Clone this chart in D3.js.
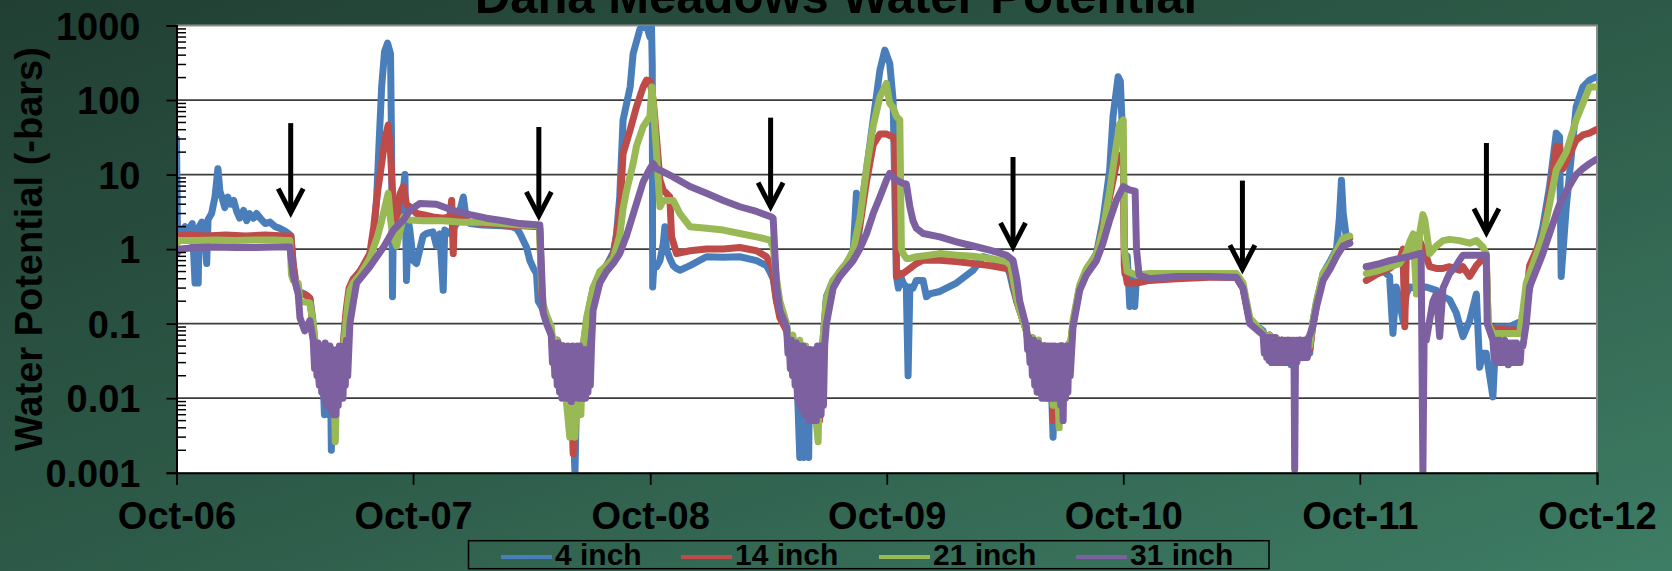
<!DOCTYPE html>
<html>
<head>
<meta charset="utf-8">
<script src="https://cdn.jsdelivr.net/npm/d3@7"></script>
<style>
  html, body { margin: 0; padding: 0; overflow: hidden; }
  body { width: 1672px; height: 571px; }
  svg { display: block; }
  text { font-family: "Liberation Sans", Arial, sans-serif; fill: #000; }
</style>
</head>
<body>
<svg id="chart" width="1672" height="571"></svg>
<script>
// ---------- DATA (time = months since Oct 1 2006, value = water potential in -bars) ----------
const chartTitle = "Dana Meadows Water Potential";
const yAxisTitle = "Water Potential (-bars)";
const yTickValues = [0.001, 0.01, 0.1, 1, 10, 100, 1000];
const xTickLabels = ["Oct-06", "Oct-07", "Oct-08", "Oct-09", "Oct-10", "Oct-11", "Oct-12"];
const seriesNames = ["4 inch", "14 inch", "21 inch", "31 inch"];

const inch4 = [
 [0,30],[0.05,1.6],[0.2,1.7],[0.43,2.0],[0.6,1.8],[0.8,2.2],[0.94,0.35],[1.0,1.8],[1.1,0.35],[1.15,2.0],[1.28,2.3],[1.4,1.8],[1.53,0.64],[1.6,2.5],[1.78,3.0],[1.95,5.0],[2.1,12],[2.2,6.0],[2.3,5.0],[2.45,3.6],[2.6,5.0],[2.75,4.0],[2.9,4.5],[3.05,3.2],[3.2,2.6],[3.4,3.3],[3.56,2.4],[3.7,3.0],[3.9,2.6],[4.06,3.0],[4.3,2.5],[4.5,2.2],[4.74,2.3],[5.0,2.0],[5.24,1.9],[5.5,1.75],[5.7,1.6],[5.8,1.5],
 [5.9,0.7],[6.0,0.4],[6.2,0.27],[6.5,0.25],[6.76,0.22],[6.9,0.12],[7.0,0.06],[7.1,0.04],[7.25,0.015],[7.4,0.03],[7.5,0.006],[7.6,0.012],[7.7,0.006],[7.8,0.03],[7.85,0.002],[7.9,0.02],[8.0,0.04],[8.1,0.015],[8.2,0.035],[8.3,0.02],[8.45,0.05],[8.55,0.1],[8.7,0.2],[8.8,0.3],[9.0,0.4],[9.4,0.55],[9.8,0.75],[10.0,1.5],[10.15,5],[10.25,20],[10.4,150],[10.55,450],[10.7,580],[10.85,420],[10.9,30],[10.95,0.23],[11.0,3],[11.16,1.5],[11.4,3.5],[11.58,10],[11.66,0.38],[11.75,2.4],[11.83,1.8],[12.0,0.7],[12.17,0.64],[12.34,1.0],[12.5,1.5],[12.68,1.62],[13.0,1.7],[13.18,1.1],[13.35,1.6],[13.52,0.28],[13.6,1.8],[13.86,1.62],[14.2,2.2],[14.54,5.0],[14.7,2.4],[14.88,2.2],[15.5,2.1],[16.5,2.05],[17.0,2.0],[17.24,1.9],[17.41,1.62],[17.74,1.07],[17.91,0.71],[18.1,0.55],[18.25,0.47],[18.34,0.2],[18.5,0.17],[18.76,0.12],[19.0,0.07],
 [19.15,0.04],[19.3,0.06],[19.45,0.025],[19.6,0.05],[19.75,0.02],[19.9,0.045],[20.05,0.012],[20.2,0.001],[20.3,0.015],[20.45,0.04],[20.6,0.02],[20.75,0.05],[20.9,0.1],[21.12,0.25],[21.46,0.4],[21.8,0.6],[22.14,0.9],[22.3,1.5],[22.47,5],[22.64,54],[23.0,150],[23.15,420],[23.5,900],[23.66,950],[23.83,1000],[24.0,700],[24.08,1000],[24.12,300],[24.14,0.31],[24.2,0.6],[24.34,0.58],[24.51,0.7],[24.68,1.2],[24.76,2.0],[24.84,1.0],[25.01,0.75],[25.18,0.6],[25.35,0.55],[25.52,0.52],[26.03,0.6],[26.87,0.79],[27.72,0.78],[28.56,0.79],[29.41,0.7],[29.91,0.6],[30.08,0.5],[30.25,0.4],
 [30.42,0.2],[30.59,0.15],[30.93,0.09],[31.09,0.05],[31.25,0.02],[31.4,0.05],[31.6,0.0016],[31.7,0.03],[31.8,0.0016],[31.94,0.02],[32.05,0.0016],[32.11,0.04],[32.3,0.01],[32.45,0.04],[32.6,0.015],[32.75,0.05],[32.95,0.23],[33.29,0.38],[33.63,0.45],[33.97,0.58],[34.3,0.87],[34.47,5.6],[34.55,1.0],[34.64,2.45],[34.98,11.5],[35.32,54],[35.66,250],[35.91,468],[36.16,310],[36.33,100],[36.5,0.43],[36.6,0.3],[36.67,0.47],[36.84,0.35],[37.0,0.31],[37.09,0.02],[37.18,0.31],[37.34,0.3],[37.51,0.38],[37.85,0.38],[38.02,0.23],[38.19,0.25],[38.7,0.27],[39.54,0.35],[40.39,0.52],[40.89,0.79],[41.23,0.75],[42.07,0.64],[42.24,0.47],[42.41,0.3],
 [42.6,0.2],[42.75,0.15],[43.09,0.08],[43.25,0.04],[43.4,0.06],[43.55,0.02],[43.7,0.05],[43.85,0.015],[44.0,0.05],[44.15,0.01],[44.3,0.04],[44.44,0.003],[44.55,0.03],[44.7,0.012],[44.85,0.05],[45.0,0.02],[45.15,0.05],[45.28,0.03],[45.45,0.1],[45.79,0.31],[46.13,0.52],[46.64,0.87],[46.97,2.45],[47.31,11.5],[47.48,60],[47.74,205],[47.85,180],[48.0,20],[48.08,0.47],[48.2,0.8],[48.33,0.17],[48.45,0.45],[48.58,0.17],[48.67,0.43],[49.34,0.43],[50.69,0.43],[52.38,0.43],[53.73,0.42],[54.07,0.3],[54.41,0.11],[55.09,0.08],
 [55.25,0.05],[55.42,0.07],[55.6,0.04],[55.75,0.06],[55.9,0.035],[56.05,0.06],[56.2,0.03],[56.35,0.055],[56.5,0.028],[56.65,0.05],[56.8,0.03],[56.95,0.06],[57.1,0.035],[57.25,0.06],[57.45,0.04],[57.6,0.1],[57.8,0.2],[57.96,0.3],[58.13,0.47],[58.5,0.7],[58.81,1.0],[58.95,2.5],[59.06,8.4],[59.15,3],[59.3,1.5],[59.48,1.2],[59.9,null],
 [60.32,0.58],[60.8,0.55],[61.2,0.5],[61.5,0.43],[61.67,0.074],[61.84,0.31],[62.01,0.2],[62.18,0.11],[62.35,0.25],[62.52,0.31],[63.0,0.3],[63.36,0.31],[63.87,0.28],[64.21,0.23],[64.54,0.21],[64.88,0.14],[65.22,0.067],[65.56,0.11],[65.9,0.25],[66.07,0.026],[66.23,0.04],[66.4,0.04],[66.74,0.0104],[66.91,0.091],[67.58,0.091],[68.26,0.11],[68.6,0.3],[68.94,0.87],[69.27,2],[69.61,6.9],[69.95,36],[70.12,32],[70.2,0.43],[70.46,3.7],[70.96,81],[71.3,150],[71.64,185],[71.98,205]
];

const inch14 = [
 [0,1.3],[0.1,1.5],[0.5,1.55],[1.5,1.5],[2.5,1.55],[3.5,1.5],[4.5,1.55],[5.5,1.5],[5.8,1.5],[5.92,0.6],[6.1,0.3],[6.3,0.25],[6.6,0.24],[6.76,0.22],[6.9,0.1],[7.0,0.05],[7.15,0.03],[7.3,0.045],[7.45,0.02],[7.6,0.04],[7.75,0.012],[7.9,0.035],[8.05,0.015],[8.2,0.04],[8.35,0.02],[8.45,0.05],[8.6,0.15],[8.75,0.3],[8.96,0.4],[9.3,0.5],[9.8,0.87],[10.0,2.0],[10.2,6],[10.4,14],[10.57,30],[10.73,46],[10.85,20],[10.99,3.7],[11.16,2.45],[11.33,5.5],[11.5,6.9],[11.66,4.0],[11.83,3.7],[12.17,3.0],[12.5,2.9],[13.0,2.7],[13.52,2.6],[13.86,2.7],[13.95,4.5],[14.03,0.87],[14.1,3.0],[14.2,2.6],[14.88,2.3],[15.72,2.2],[16.56,2.1],[17.5,2.05],[18.34,2.0],[18.42,1.9],[18.5,0.3],[18.59,0.15],[18.76,0.12],[19.0,0.08],
 [19.15,0.03],[19.3,0.06],[19.45,0.02],[19.6,0.05],[19.75,0.015],[19.94,0.04],[20.11,0.0018],[20.2,0.012],[20.35,0.04],[20.5,0.02],[20.62,0.05],[20.79,0.11],[21.12,0.3],[21.46,0.45],[21.8,0.6],[22.14,0.8],[22.47,3],[22.64,19],[23.0,40],[23.32,81],[23.66,150],[23.83,185],[24.0,180],[24.17,100],[24.34,30],[24.51,8.4],[24.68,6.2],[25.01,5.0],[25.1,1.46],[25.35,0.87],[26.03,0.95],[26.87,1.0],[27.72,1.0],[28.56,1.05],[29.41,0.95],[29.91,0.79],[30.17,0.6],[30.25,0.45],[30.42,0.2],[30.59,0.12],[30.93,0.08],
 [31.09,0.04],[31.25,0.06],[31.4,0.025],[31.6,0.05],[31.75,0.015],[31.9,0.04],[32.05,0.007],[32.2,0.03],[32.35,0.005],[32.45,0.03],[32.6,0.005],[32.75,0.04],[32.95,0.2],[33.29,0.35],[33.63,0.5],[33.97,0.65],[34.3,0.9],[34.64,2.0],[34.98,8],[35.32,25],[35.66,35],[35.99,35],[36.33,32],[36.45,25],[36.5,0.43],[36.67,0.47],[36.84,0.47],[37.18,0.55],[37.51,0.64],[37.85,0.71],[38.7,0.71],[39.54,0.68],[40.39,0.64],[41.23,0.6],[42.07,0.55],[42.3,0.5],[42.41,0.35],[42.6,0.2],[42.75,0.15],[43.09,0.08],
 [43.25,0.045],[43.4,0.065],[43.55,0.03],[43.7,0.06],[43.85,0.02],[44.0,0.05],[44.15,0.012],[44.3,0.045],[44.44,0.005],[44.6,0.04],[44.75,0.015],[44.9,0.05],[45.05,0.02],[45.2,0.05],[45.35,0.06],[45.45,0.1],[45.79,0.31],[46.13,0.5],[46.64,0.8],[46.97,2.0],[47.31,5],[47.65,14],[47.85,18],[48.0,19],[48.05,0.6],[48.2,0.35],[48.67,0.35],[49.34,0.38],[50.69,0.4],[52.38,0.42],[53.73,0.42],[54.07,0.3],[54.41,0.11],[55.09,0.075],
 [55.25,0.05],[55.42,0.07],[55.6,0.045],[55.75,0.065],[55.9,0.04],[56.05,0.06],[56.2,0.035],[56.35,0.06],[56.5,0.035],[56.65,0.055],[56.8,0.035],[56.95,0.06],[57.1,0.04],[57.25,0.06],[57.45,0.045],[57.6,0.09],[57.8,0.18],[57.96,0.28],[58.13,0.43],[58.5,0.6],[58.81,0.9],[59.14,1.3],[59.48,1.4],[59.9,null],
 [60.32,0.38],[60.8,0.45],[61.5,0.55],[62.01,0.7],[62.18,1.0],[62.27,0.091],[62.35,0.9],[62.6,1.1],[62.86,1.1],[63.02,1.3],[63.36,0.8],[63.53,0.58],[63.87,0.55],[64.21,0.55],[64.54,0.58],[65.05,0.52],[65.22,0.58],[65.56,0.43],[65.9,0.6],[66.23,0.75],[66.4,0.75],[66.5,0.1],[66.74,0.085],[67.58,0.082],[68.26,0.082],[68.6,0.6],[69.27,1.5],[69.61,5],[69.95,24],[70.12,24],[70.29,12],[70.96,29],[71.3,34],[71.64,36],[71.98,40]
];

const inch21 = [
 [0,1.15],[0.1,1.3],[1,1.3],[2,1.32],[3,1.3],[4,1.32],[5,1.32],[5.58,1.3],[5.75,1.3],[5.83,0.45],[5.92,0.38],[6.17,0.35],[6.26,0.2],[6.76,0.19],[6.93,0.1],[7.05,0.05],[7.2,0.035],[7.35,0.05],[7.5,0.025],[7.65,0.045],[7.8,0.015],[7.95,0.04],[8.05,0.0026],[8.15,0.03],[8.3,0.015],[8.45,0.045],[8.55,0.08],[8.7,0.2],[8.79,0.28],[8.96,0.35],[9.3,0.45],[9.8,0.75],[10.2,1.5],[10.4,2.4],[10.57,3.7],[10.73,5.6],[10.85,2.5],[10.99,1.46],[11.16,1.1],[11.5,2.7],[11.83,2.45],[12.5,2.4],[13.5,2.4],[14.5,2.3],[15.5,2.3],[16.5,2.2],[17.5,2.1],[18.3,2.05],[18.4,2.0],[18.5,0.35],[18.59,0.18],[18.76,0.13],[19.0,0.09],
 [19.15,0.04],[19.3,0.06],[19.45,0.02],[19.6,0.05],[19.75,0.01],[19.94,0.003],[20.05,0.03],[20.2,0.003],[20.35,0.04],[20.5,0.006],[20.62,0.05],[20.79,0.12],[21.12,0.3],[21.46,0.5],[21.8,0.6],[22.14,0.75],[22.47,1.5],[22.64,3.5],[22.81,6.0],[23.15,14],[23.32,24],[23.66,44],[24.0,60],[24.1,150],[24.17,90],[24.34,19],[24.51,3.7],[24.68,4.5],[25.18,4.5],[25.52,3.0],[26.03,2.0],[26.87,1.9],[27.72,1.8],[28.56,1.62],[29.41,1.46],[30.08,1.32],[30.25,1.07],[30.42,0.4],[30.59,0.2],[30.93,0.1],
 [31.09,0.045],[31.25,0.07],[31.4,0.03],[31.6,0.06],[31.75,0.02],[31.9,0.05],[32.05,0.01],[32.2,0.04],[32.35,0.008],[32.53,0.0026],[32.6,0.03],[32.75,0.05],[32.95,0.22],[33.29,0.38],[33.63,0.5],[33.97,0.65],[34.3,0.95],[34.64,2.5],[34.98,12],[35.32,45],[35.66,110],[35.99,167],[36.16,90],[36.33,80],[36.5,60],[36.67,54],[36.75,1.0],[36.84,0.87],[37.0,0.75],[37.18,0.75],[37.51,0.79],[37.85,0.81],[38.7,0.87],[39.54,0.83],[40.39,0.8],[41.23,0.75],[42.07,0.68],[42.3,0.6],[42.41,0.4],[42.6,0.22],[42.75,0.15],[43.09,0.08],
 [43.25,0.045],[43.4,0.065],[43.55,0.03],[43.7,0.06],[43.85,0.02],[44.0,0.05],[44.15,0.01],[44.3,0.045],[44.44,0.008],[44.6,0.04],[44.75,0.004],[44.9,0.05],[45.05,0.02],[45.2,0.05],[45.35,0.06],[45.45,0.11],[45.79,0.33],[46.13,0.55],[46.64,0.85],[46.97,1.8],[47.31,6],[47.65,25],[47.82,48],[48.0,54],[48.05,1.0],[48.2,0.5],[48.67,0.45],[49.34,0.47],[50.69,0.47],[52.38,0.47],[53.73,0.47],[54.07,0.35],[54.41,0.12],[55.09,0.075],
 [55.25,0.05],[55.42,0.07],[55.6,0.045],[55.75,0.065],[55.9,0.04],[56.05,0.06],[56.2,0.032],[56.35,0.06],[56.5,0.03],[56.65,0.055],[56.8,0.035],[56.95,0.06],[57.1,0.04],[57.25,0.06],[57.45,0.05],[57.6,0.1],[57.8,0.2],[57.96,0.3],[58.13,0.47],[58.5,0.65],[58.81,0.95],[59.14,1.4],[59.48,1.5],[59.9,null],
 [60.32,0.47],[61.0,0.52],[61.5,0.58],[62.01,0.64],[62.35,0.9],[62.52,1.25],[62.7,1.6],[62.86,0.25],[63.02,1.6],[63.19,2.9],[63.28,2.5],[63.53,0.87],[63.87,1.1],[64.21,1.3],[64.54,1.35],[65.05,1.3],[65.56,1.2],[65.9,1.3],[66.23,1.07],[66.4,0.87],[66.5,0.1],[66.74,0.074],[67.58,0.074],[68.09,0.074],[68.26,0.15],[68.43,0.35],[68.6,0.47],[69.27,1.46],[69.61,4],[69.95,11.5],[70.46,20],[70.96,54],[71.3,90],[71.64,150],[71.98,150]
];

const inch31 = [
 [0,0.87],[0.2,1.0],[1,1.05],[2,1.07],[3,1.05],[4,1.05],[5,1.07],[5.75,1.07],[5.83,0.7],[5.92,0.45],[6.17,0.25],[6.26,0.12],[6.5,0.08],[6.76,0.11],
 [6.93,0.06],[7.0,0.025],[7.06,0.05],[7.12,0.02],[7.18,0.055],[7.24,0.015],[7.3,0.05],[7.36,0.012],[7.42,0.05],[7.48,0.01],[7.54,0.055],[7.6,0.008],[7.66,0.045],[7.72,0.01],[7.78,0.05],[7.84,0.007],[7.9,0.045],[7.96,0.006],[8.02,0.04],[8.08,0.006],[8.14,0.045],[8.2,0.008],[8.26,0.05],[8.32,0.01],[8.38,0.045],[8.44,0.01],[8.5,0.05],[8.56,0.015],[8.62,0.06],[8.68,0.02],[8.79,0.1],
 [8.96,0.19],[9.13,0.35],[9.8,0.58],[10.5,1.07],[11.0,1.8],[11.5,2.45],[11.83,3.3],[12.34,4.1],[13.18,4.0],[14.03,3.3],[14.88,2.9],[15.72,2.6],[16.56,2.4],[17.41,2.2],[18.42,2.1],[18.5,0.6],[18.59,0.14],[18.76,0.1],
 [19.0,0.07],[19.06,0.03],[19.12,0.055],[19.18,0.02],[19.24,0.05],[19.3,0.015],[19.36,0.055],[19.42,0.012],[19.48,0.05],[19.54,0.01],[19.6,0.05],[19.66,0.012],[19.72,0.045],[19.78,0.01],[19.84,0.05],[19.9,0.01],[19.96,0.045],[20.02,0.009],[20.08,0.05],[20.14,0.01],[20.2,0.045],[20.26,0.012],[20.32,0.05],[20.38,0.01],[20.44,0.05],[20.5,0.01],[20.56,0.045],[20.62,0.01],[20.68,0.045],[20.74,0.01],[20.8,0.04],[20.86,0.012],[20.92,0.045],[20.98,0.015],[21.04,0.05],[21.12,0.15],
 [21.46,0.35],[21.8,0.5],[22.14,0.64],[22.47,0.87],[22.81,1.5],[23.32,4.1],[23.66,8],[24.0,12],[24.17,14],[24.34,12],[24.51,11.5],[25.18,9.3],[26.03,6.9],[26.87,5.6],[27.72,4.5],[28.56,3.7],[29.41,3.2],[30.17,2.7],[30.25,2.6],[30.42,0.31],[30.59,0.15],
 [30.93,0.09],[31.0,0.04],[31.06,0.06],[31.12,0.025],[31.18,0.06],[31.24,0.02],[31.3,0.055],[31.36,0.015],[31.42,0.055],[31.48,0.01],[31.54,0.05],[31.6,0.008],[31.66,0.05],[31.72,0.007],[31.78,0.05],[31.84,0.006],[31.9,0.045],[31.96,0.006],[32.02,0.045],[32.08,0.005],[32.14,0.045],[32.2,0.005],[32.26,0.04],[32.32,0.005],[32.38,0.045],[32.44,0.005],[32.5,0.05],[32.56,0.006],[32.62,0.05],[32.68,0.006],[32.74,0.05],[32.8,0.008],[32.86,0.05],[32.95,0.1],
 [33.29,0.3],[33.63,0.43],[33.97,0.55],[34.3,0.7],[34.64,1.0],[34.98,1.6],[35.32,3.0],[35.66,5.0],[35.99,8.4],[36.16,10.4],[36.33,9.3],[36.5,8.4],[36.84,7.6],[37.0,7.5],[37.18,3.7],[37.34,2.4],[37.51,1.9],[37.85,1.62],[38.7,1.46],[39.54,1.25],[40.39,1.1],[41.23,0.97],[42.07,0.83],[42.41,0.71],[42.6,0.4],[42.75,0.2],
 [43.09,0.09],[43.15,0.045],[43.21,0.065],[43.27,0.03],[43.33,0.06],[43.39,0.02],[43.45,0.06],[43.51,0.015],[43.57,0.055],[43.63,0.012],[43.69,0.055],[43.75,0.012],[43.81,0.05],[43.87,0.01],[43.93,0.05],[43.99,0.01],[44.05,0.05],[44.11,0.01],[44.17,0.05],[44.23,0.01],[44.29,0.05],[44.35,0.01],[44.41,0.05],[44.47,0.01],[44.53,0.05],[44.59,0.01],[44.65,0.045],[44.71,0.01],[44.77,0.05],[44.83,0.008],[44.89,0.05],[44.95,0.005],[45.01,0.045],[45.07,0.01],[45.13,0.05],[45.19,0.012],[45.25,0.05],[45.31,0.02],[45.45,0.09],
 [45.79,0.28],[46.13,0.45],[46.64,0.7],[46.97,1.2],[47.31,2.45],[47.65,4.5],[48.0,6.9],[48.33,6.2],[48.6,6.0],[48.67,1.0],[48.8,0.45],[49.34,0.4],[50.69,0.43],[52.38,0.43],[53.73,0.42],[54.07,0.3],[54.41,0.1],
 [55.09,0.07],[55.15,0.04],[55.21,0.065],[55.27,0.035],[55.33,0.065],[55.39,0.032],[55.45,0.065],[55.51,0.03],[55.57,0.065],[55.63,0.03],[55.69,0.065],[55.75,0.03],[55.81,0.06],[55.87,0.03],[55.93,0.06],[55.99,0.03],[56.05,0.06],[56.11,0.03],[56.17,0.06],[56.23,0.03],[56.29,0.06],[56.35,0.03],[56.41,0.06],[56.47,0.03],[56.53,0.06],[56.59,0.035],[56.65,0.06],[56.69,0.0011],[56.73,0.035],[56.79,0.06],[56.85,0.035],[56.91,0.06],[56.97,0.035],[57.03,0.06],[57.09,0.035],[57.15,0.06],[57.21,0.035],[57.27,0.06],[57.33,0.035],[57.39,0.065],[57.45,0.07],
 [57.6,0.09],[57.8,0.17],[57.96,0.25],[58.13,0.38],[58.5,0.55],[58.81,0.8],[59.14,1.1],[59.48,1.2],[59.9,null],
 [60.32,0.58],[61.0,0.64],[61.5,0.7],[62.01,0.75],[62.52,0.8],[63.02,0.87],[63.1,0.87],[63.19,0.001],[63.25,0.06],[63.36,0.06],[63.53,0.11],[63.7,0.2],[63.87,0.25],[64.04,0.067],[64.21,0.3],[64.54,0.47],[64.88,0.6],[65.05,0.71],[65.22,0.83],[65.5,0.83],[66.0,0.83],[66.4,0.83],[66.45,0.1],
 [66.74,0.06],[66.8,0.035],[66.86,0.06],[66.92,0.03],[66.98,0.06],[67.04,0.03],[67.1,0.06],[67.16,0.03],[67.22,0.055],[67.28,0.03],[67.34,0.06],[67.4,0.03],[67.46,0.055],[67.52,0.028],[67.58,0.055],[67.64,0.03],[67.7,0.055],[67.76,0.03],[67.82,0.055],[67.88,0.03],[67.94,0.055],[68.0,0.03],[68.06,0.05],[68.12,0.03],[68.18,0.05],[68.26,0.05],
 [68.43,0.1],[68.6,0.31],[69.27,0.87],[69.95,3.0],[70.12,4.0],[70.46,6.0],[70.96,10],[71.3,12],[71.64,14],[71.98,16]
];

// arrows: month position, tip value, tail value
const arrowMonths = [5.79, 18.37, 30.12, 42.41, 54.04, 66.41];
const arrowTipValues = [3.08, 2.79, 3.71, 1.07, 0.54, 1.66];
const arrowTailValues = [49, 43.5, 58, 17.2, 8.3, 26.5];

// ---------- LAYOUT / STYLE ----------
const W = 1672, H = 571;
const plot = { left: 176.5, right: 1597, top: 25.5, bottom: 472.7 };
const colors = ["#4a7ebb", "#be4b48", "#98b954", "#7d60a0"];
const FONT = '"Liberation Sans", Arial, sans-serif';

const svg = d3.select("#chart");
const defs = svg.append("defs");
const grad = defs.append("linearGradient").attr("id", "bg")
  .attr("x1", "0%").attr("y1", "0%").attr("x2", "100%").attr("y2", "100%");
grad.append("stop").attr("offset", "0%").attr("stop-color", "#213f33");
grad.append("stop").attr("offset", "50%").attr("stop-color", "#2d5a48");
grad.append("stop").attr("offset", "100%").attr("stop-color", "#3e7d65");
svg.append("rect").attr("width", W).attr("height", H).attr("fill", "url(#bg)");

defs.append("clipPath").attr("id", "clip").append("rect")
  .attr("x", plot.left).attr("y", plot.top)
  .attr("width", plot.right - plot.left).attr("height", plot.bottom - plot.top);

// scales
const t0 = Date.UTC(2006, 9, 1);
const monthToDate = m => new Date(t0 + m * 30.4375 * 864e5);
const x = d3.scaleUtc()
  .domain([new Date(Date.UTC(2006, 9, 1)), new Date(Date.UTC(2012, 9, 1))])
  .range([plot.left, plot.right]);
const y = d3.scaleLog().domain([0.001, 1000]).range([plot.bottom, plot.top]);

// plot background
svg.append("rect").attr("x", plot.left).attr("y", plot.top)
  .attr("width", plot.right - plot.left).attr("height", plot.bottom - plot.top)
  .attr("fill", "#ffffff");

// gridlines
svg.append("g").selectAll("line").data(yTickValues.filter(v => v > 0.001 && v < 1000)).join("line")
  .attr("x1", plot.left).attr("x2", plot.right)
  .attr("y1", d => y(d)).attr("y2", d => y(d))
  .attr("stroke", "#3c3c3c").attr("stroke-width", 1.8);

// plot border (top/right grey)
svg.append("path")
  .attr("d", `M${plot.left},${plot.top}H${plot.right}V${plot.bottom}`)
  .attr("fill", "none").attr("stroke", "#8c8c8c").attr("stroke-width", 2);

// series lines
const line = d3.line()
  .defined(d => d[1] != null)
  .x(d => x(monthToDate(d[0])))
  .y(d => y(d[1]));
const allSeries = [inch4, inch14, inch21, inch31];
const gLines = svg.append("g").attr("clip-path", "url(#clip)");
allSeries.forEach((s, i) => {
  gLines.append("path").datum(s)
    .attr("d", line)
    .attr("fill", "none")
    .attr("stroke", colors[i])
    .attr("stroke-width", 7)
    .attr("stroke-linejoin", "round")
    .attr("stroke-linecap", "round");
});

// y axis: major ticks outward, minor ticks inward
const yAxis = d3.axisLeft(y).tickValues(yTickValues).tickSize(10).tickPadding(26)
  .tickFormat(d3.format("~g"));
const gy = svg.append("g").attr("transform", `translate(${plot.left},0)`).call(yAxis);
gy.select(".domain").attr("stroke", "#000").attr("stroke-width", 2);
gy.selectAll(".tick line").attr("stroke", "#000").attr("stroke-width", 1.8);
gy.selectAll(".tick text")
  .style("font-family", FONT).style("font-size", "38px").style("font-weight", "bold")
  .attr("fill", "#000").attr("dy", "0.36em");
const minorVals = [];
for (let e = -3; e < 3; e++) for (let k = 2; k <= 9; k++) minorVals.push(k * Math.pow(10, e));
svg.append("g").selectAll("line").data(minorVals).join("line")
  .attr("x1", plot.left).attr("x2", plot.left + 9.5)
  .attr("y1", d => y(d)).attr("y2", d => y(d))
  .attr("stroke", "#000").attr("stroke-width", 1.5);

// x axis
const xTicks = d3.range(2006, 2013).map(yr => new Date(Date.UTC(yr, 9, 1)));
const xAxis = d3.axisBottom(x).tickValues(xTicks).tickSize(12).tickPadding(17)
  .tickFormat((d, i) => xTickLabels[i]);
const gx = svg.append("g").attr("transform", `translate(0,${plot.bottom})`).call(xAxis);
gx.select(".domain").attr("stroke", "#000").attr("stroke-width", 2);
gx.selectAll(".tick line").attr("stroke", "#000").attr("stroke-width", 1.8);
gx.selectAll(".tick text")
  .style("font-family", FONT).style("font-size", "38px").style("font-weight", "bold")
  .attr("fill", "#000");

// arrows
const gArr = svg.append("g").attr("stroke", "#000").attr("stroke-width", 5)
  .attr("fill", "none").attr("stroke-linecap", "butt");
arrowMonths.forEach((m, i) => {
  const ax = x(monthToDate(m));
  const yTip = y(arrowTipValues[i]);
  const yTail = y(arrowTailValues[i]);
  gArr.append("line").attr("x1", ax).attr("x2", ax).attr("y1", yTail).attr("y2", yTip - 2);
  gArr.append("path")
    .attr("d", `M${ax - 12.5},${yTip - 24}L${ax},${yTip}L${ax + 12.5},${yTip - 24}`)
    .attr("stroke-linejoin", "miter");
});

// title (partly cut off at top, as in the original slide)
svg.append("text").attr("x", 836).attr("y", 13)
  .attr("text-anchor", "middle")
  .style("font-family", FONT).style("font-size", "49px").style("font-weight", "bold")
  .text(chartTitle);

// y axis title
svg.append("text")
  .attr("transform", `translate(42,${(plot.top + plot.bottom) / 2}) rotate(-90)`)
  .attr("text-anchor", "middle")
  .style("font-family", FONT).style("font-size", "38px").style("font-weight", "bold")
  .text(yAxisTitle);

// legend
const legend = svg.append("g");
legend.append("rect").attr("x", 468.5).attr("y", 540.7).attr("width", 800.5).attr("height", 28)
  .attr("fill", "none").attr("stroke", "#000").attr("stroke-width", 1.5);
const legX = [501, 681, 879, 1076];
seriesNames.forEach((name, i) => {
  legend.append("line").attr("x1", legX[i]).attr("x2", legX[i] + 51)
    .attr("y1", 557).attr("y2", 557)
    .attr("stroke", colors[i]).attr("stroke-width", 4);
  legend.append("text").attr("x", legX[i] + 54).attr("y", 565)
    .style("font-family", FONT).style("font-size", "30px").style("font-weight", "bold")
    .text(name);
});
</script>
</body>
</html>
